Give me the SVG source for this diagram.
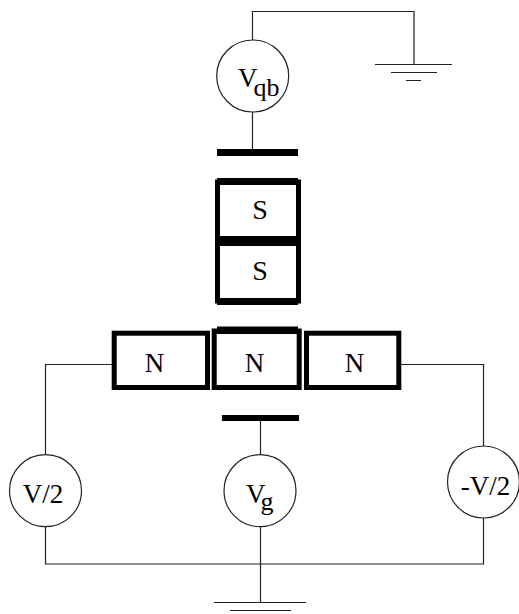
<svg xmlns="http://www.w3.org/2000/svg" width="519" height="614" viewBox="0 0 519 614">
<style>
.w{fill:none;stroke:#222;stroke-width:1.2}
.c{fill:#fff;stroke:#222;stroke-width:1.2}
.g{fill:none;stroke:#222;stroke-width:1.2}
.b{fill:#000;stroke:none}
.box{fill:#fff;stroke:#000;stroke-width:5}
.t{font-family:"Liberation Serif",serif;fill:#000}
.m{font-size:28px;text-anchor:middle}
.n{font-size:27px;text-anchor:middle}
.v{font-size:27px}
.big{font-size:30px}
.sub{font-size:26px}
</style>
<rect width="519" height="614" fill="#fff"/>
<g id="connectors">
<path class="w" d="M252.5 40V11.500H414V64.500"/>
<path class="w" d="M252.5 112V149"/>
<path class="w" d="M45.500 455V364.500H112"/>
<path class="w" d="M401 364.500H483.500V447"/>
<path class="w" d="M260.500 420V455"/>
<path class="w" d="M45.500 527V564H483.500V518"/>
<path class="w" d="M260.500 527V602"/>
</g>
<g id="ground-top">
<path class="g" d="M375 64.500H452M391 72.500H437M406 80.500H421"/>
</g>
<g id="ground-bottom">
<path class="g" d="M214 602.500H306M230 610.500H291"/>
</g>
<g id="source-vqb">
<circle class="c" cx="252.700" cy="76" r="36"/>
<text class="t v" x="238" y="87">V<tspan class="sub" dy="9" dx="-4">qb</tspan></text>
</g>
<g id="plate-top"><rect class="b" x="217" y="149" width="81" height="7"/></g>
<g id="dot-s1">
<rect class="box" x="217.500" y="182" width="81" height="57"/>
<rect class="b" x="217" y="178" width="81" height="7"/>
<text class="t m" x="260" y="219">S</text>
</g>
<g id="dot-s2">
<rect class="box" x="217.500" y="242" width="81" height="59"/>
<rect class="b" x="217" y="236" width="81" height="10"/>
<rect class="b" x="217" y="298" width="81" height="7"/>
<text class="t m" x="260" y="280">S</text>
</g>
<g id="dot-n-left">
<rect class="box" x="114.200" y="333.200" width="93.300" height="54.300"/>
<text class="t n" x="154.500" y="372">N</text>
</g>
<g id="dot-n-center">
<rect class="box" x="214.200" y="331" width="85" height="56.500"/>
<rect class="b" x="217" y="326.500" width="81" height="7.500"/>
<text class="t n" x="254.500" y="372">N</text>
</g>
<g id="dot-n-right">
<rect class="box" x="306.500" y="333.200" width="92.300" height="54.300"/>
<text class="t n" x="354.500" y="372">N</text>
</g>
<g id="plate-gate"><rect class="b" x="222" y="415" width="77" height="6"/></g>
<g id="source-left">
<circle class="c" cx="45.500" cy="490.700" r="36"/>
<text class="t v" x="43" y="503" text-anchor="middle">V/2</text>
</g>
<g id="source-gate">
<circle class="c" cx="260" cy="490.700" r="36"/>
<text class="t v" x="246" y="503">V<tspan class="sub" dy="7" dx="-5">g</tspan></text>
</g>
<g id="source-right">
<circle class="c" cx="483.500" cy="482" r="36"/>
<text class="t v" x="485.500" y="495" text-anchor="middle">-V/2</text>
</g>
</svg>
